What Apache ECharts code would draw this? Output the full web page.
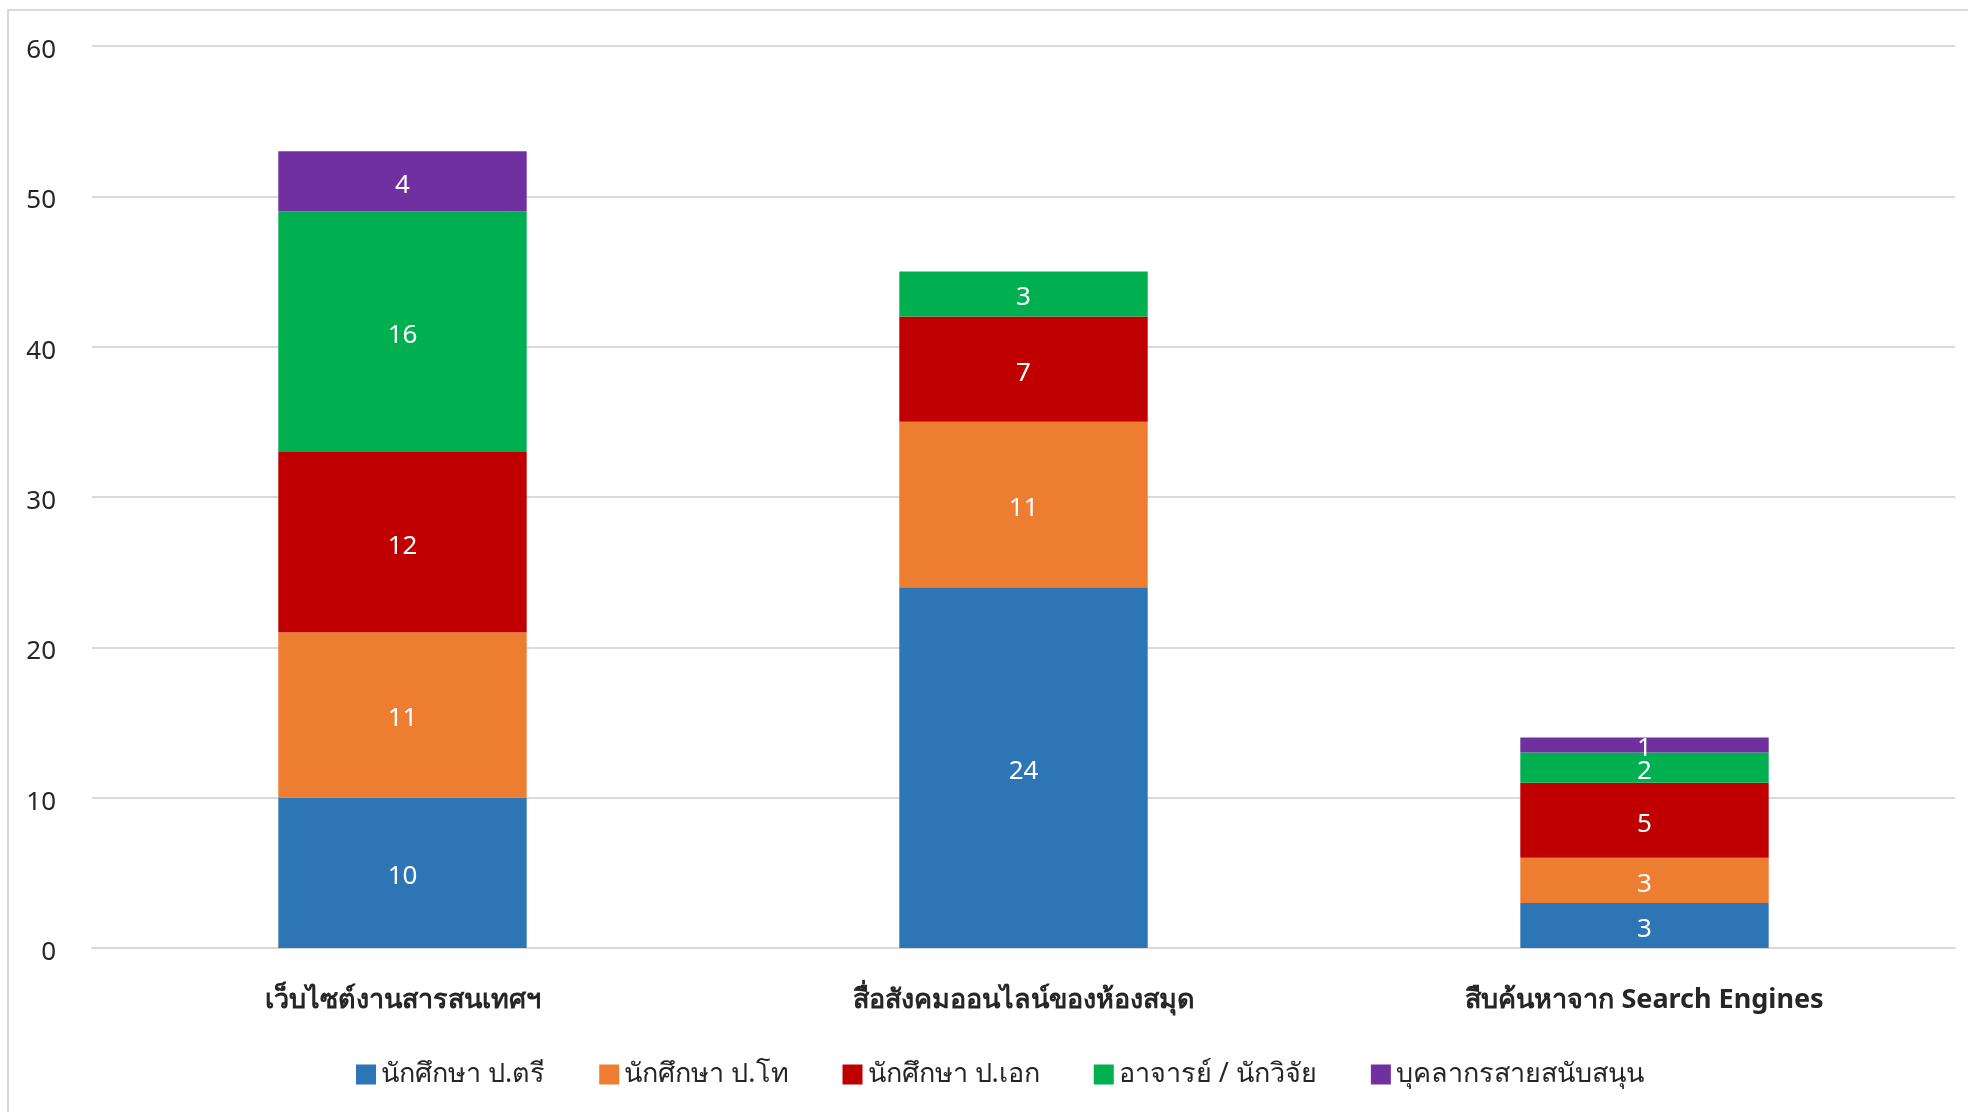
<!DOCTYPE html>
<html>
<head>
<meta charset="utf-8">
<script src="https://cdn.jsdelivr.net/npm/echarts@6/dist/echarts.min.js"></script>
<style>
  html, body { margin: 0; padding: 0; background: #fff; }
  #frame { position: absolute; left: 7px; top: 9px; width: 1961px; height: 1103px;
           border-left: 2px solid #d9d9d9; border-top: 2px solid #d9d9d9; box-sizing: border-box; }
  #myChart { position: absolute; left: 0; top: 0; width: 1968px; height: 1112px; }
</style>
</head>
<body>
<div id="frame"></div>
<div id="myChart"></div>
<script>
var categories = ['เว็บไซต์งานสารสนเทศฯ', 'สื่อสังคมออนไลน์ของห้องสมุด', 'สืบค้นหาจาก Search Engines'];
var seriesNames = ['นักศึกษา ป.ตรี', 'นักศึกษา ป.โท', 'นักศึกษา ป.เอก', 'อาจารย์ / นักวิจัย', 'บุคลากรสายสนับสนุน'];
var bachelor = [10, 24, 3];
var master = [11, 11, 3];
var doctoral = [12, 7, 5];
var lecturer = [16, 3, 2];
var staff = [4, null, 1];
var yTicks = [0, 10, 20, 30, 40, 50, 60];

var colors = ['#2E75B6', '#ED7D31', '#C00000', '#00B050', '#7030A0'];
var values = [bachelor, master, doctoral, lecturer, staff];
var fontFam = '"Noto Sans", "Open Sans", sans-serif';

var myChart = echarts.init(document.getElementById('myChart'));

var series = [];
for (var i = 0; i < seriesNames.length; i++) {
  series.push({
    name: seriesNames[i],
    type: 'bar',
    stack: 'total',
    barWidth: '40%',
    itemStyle: { color: colors[i] },
    label: {
      show: true,
      position: 'inside',
      offset: [0, 4],
      color: '#fff',
      fontSize: 26,
      fontFamily: fontFam
    },
    data: values[i]
  });
}

myChart.setOption({
  animation: false,
  textStyle: { fontFamily: fontFam },
  grid: { left: 92, right: 13, top: 46, bottom: 164 },
  legend: {
    data: seriesNames,
    left: 351,
    top: 1056,
    itemWidth: 20,
    itemHeight: 20,
    itemGap: 54,
    icon: 'rect',
    textStyle: { fontSize: 27, color: '#262626', fontFamily: fontFam }
  },
  xAxis: {
    type: 'category',
    data: categories,
    axisLine: { lineStyle: { color: '#d9d9d9', width: 2 } },
    axisTick: { show: false },
    axisLabel: { fontSize: 27, fontWeight: 'bold', color: '#262626', margin: 39, fontFamily: fontFam }
  },
  yAxis: {
    type: 'value',
    min: yTicks[0],
    max: yTicks[yTicks.length - 1],
    interval: 10,
    axisLine: { show: false },
    axisTick: { show: false },
    splitLine: { lineStyle: { color: '#d9d9d9', width: 2 } },
    axisLabel: {
      margin: 36,
      formatter: function (v) { return '{t|' + v + '}'; },
      rich: { t: { fontSize: 26, color: '#262626', padding: [9, 0, 0, 0], fontFamily: fontFam } }
    }
  },
  series: series
});
</script>
</body>
</html>
